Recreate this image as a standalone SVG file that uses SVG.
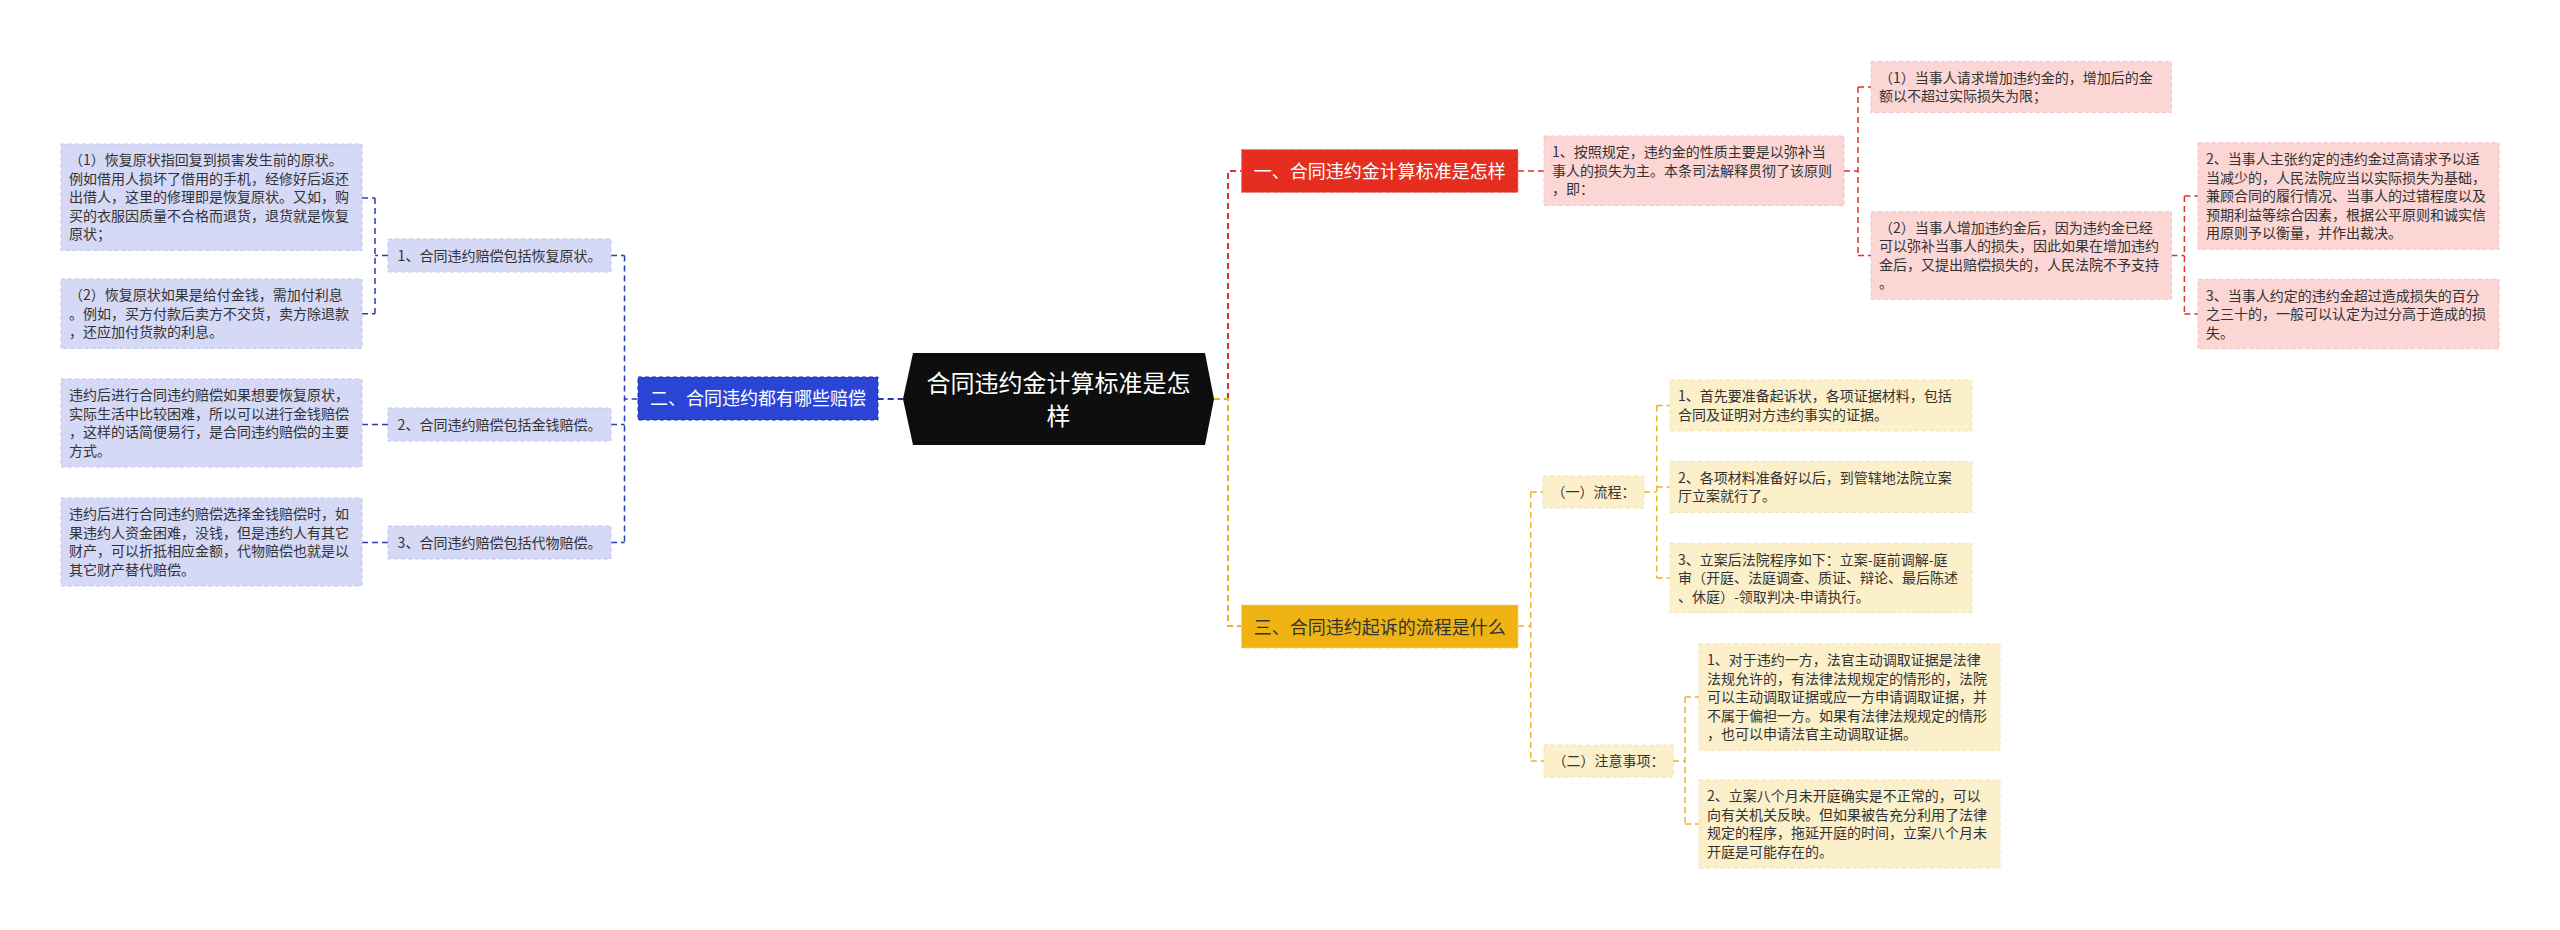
<svg xmlns="http://www.w3.org/2000/svg" width="2560" height="930" viewBox="0 0 2560 930">
<style>
text{font-family:"Noto Sans CJK SC","Noto Sans",sans-serif;}
.t{font-size:14px;fill:#333333;}
.tc{font-size:14px;fill:#333333;text-anchor:middle;}
.h{font-size:18px;text-anchor:middle;}
.root{font-size:24px;fill:#ffffff;text-anchor:middle;}
.lb{fill:#d5d9f6;stroke:#c2c8f0;stroke-width:1;stroke-dasharray:4 3;}
.lr{fill:#fcd6d4;stroke:#f6c2be;stroke-width:1;stroke-dasharray:4 3;}
.ly{fill:#fcf0cb;stroke:#f5e2aa;stroke-width:1;stroke-dasharray:4 3;}
.cb{fill:none;stroke:#2a3bb5;stroke-width:1.5;stroke-dasharray:6 4;}
.cr{fill:none;stroke:#d6362c;stroke-width:1.5;stroke-dasharray:6 4;}
.cy{fill:none;stroke:#e6b42a;stroke-width:1.5;stroke-dasharray:6 4;}
.m{stroke-width:2;}
</style>
<rect x="0" y="0" width="2560" height="930" fill="#ffffff"/>
<g id="connectors">
<path class="cb m" d="M877.7 399H903"/>
<path class="cb" d="M637.7 399H624.5M624.5 255.5V542.5M611 255.5H624.5M611 424.5H624.5M611 542.5H624.5M388 255.5H375M375 198V313.75M362 198H375M362 313.75H375M388 424.5H362M388 542.5H362"/>
<path class="cr m" d="M1228 399V171H1241.5"/>
<path class="cr" d="M1518 171H1544M1844 171H1858M1858 87V255.5M1858 87H1871M1858 255.5H1871M2171.5 255.5H2184.4M2184.4 196V314M2184.4 196H2198M2184.4 314H2198"/>
<path class="cy m" d="M1214 399H1228V626H1241.5"/>
<path class="cy" d="M1518 626H1530.7M1530.7 492V761M1530.7 492H1543M1530.7 761H1544M1644 492H1656.7M1656.7 405.5V578M1656.7 405.5H1670M1656.7 487H1670M1656.7 578H1670M1673 761H1685M1685 697V824M1685 697H1699M1685 824H1699"/>
</g>
<g id="root">
<polygon points="903,399 913,353 1205,353 1214,399 1205,445 913,445" fill="#0e0e0e"/>
<text class="root" x="1058.5" y="392">合同违约金计算标准是怎</text>
<text class="root" x="1058.5" y="425">样</text>
</g>
<g id="b0">
<rect x="638" y="377" width="240" height="43" fill="#2a45d6" stroke="#1b2fa6" stroke-width="1" stroke-dasharray="4 3"/>
<text class="h" x="758" y="405" fill="#ffffff">二、合同违约都有哪些赔偿</text>
</g>
<g id="b1">
<rect class="lb" x="388" y="239" width="223" height="33"/>
<text class="tc" x="499.5" y="260.5">1、合同违约赔偿包括恢复原状。</text>
</g>
<g id="b1a">
<rect class="lb" x="61" y="144" width="301" height="106.5"/>
<text class="t" x="69" y="165.25">（1）恢复原状指回复到损害发生前的原状。</text>
<text class="t" x="69" y="183.75">例如借用人损坏了借用的手机，经修好后返还</text>
<text class="t" x="69" y="202.25">出借人，这里的修理即是恢复原状。又如，购</text>
<text class="t" x="69" y="220.75">买的衣服因质量不合格而退货，退货就是恢复</text>
<text class="t" x="69" y="239.25">原状；</text>
</g>
<g id="b1b">
<rect class="lb" x="61" y="279" width="301" height="69.5"/>
<text class="t" x="69" y="300.25">（2）恢复原状如果是给付金钱，需加付利息</text>
<text class="t" x="69" y="318.75">。例如，买方付款后卖方不交货，卖方除退款</text>
<text class="t" x="69" y="337.25">，还应加付货款的利息。</text>
</g>
<g id="b2">
<rect class="lb" x="388" y="408" width="223" height="33"/>
<text class="tc" x="499.5" y="429.5">2、合同违约赔偿包括金钱赔偿。</text>
</g>
<g id="b2a">
<rect class="lb" x="61" y="379" width="301" height="88"/>
<text class="t" x="69" y="400.25">违约后进行合同违约赔偿如果想要恢复原状，</text>
<text class="t" x="69" y="418.75">实际生活中比较困难，所以可以进行金钱赔偿</text>
<text class="t" x="69" y="437.25">，这样的话简便易行，是合同违约赔偿的主要</text>
<text class="t" x="69" y="455.75">方式。</text>
</g>
<g id="b3">
<rect class="lb" x="388" y="526" width="223" height="33"/>
<text class="tc" x="499.5" y="547.5">3、合同违约赔偿包括代物赔偿。</text>
</g>
<g id="b3a">
<rect class="lb" x="61" y="498" width="301" height="88"/>
<text class="t" x="69" y="519.25">违约后进行合同违约赔偿选择金钱赔偿时，如</text>
<text class="t" x="69" y="537.75">果违约人资金困难，没钱，但是违约人有其它</text>
<text class="t" x="69" y="556.25">财产，可以折抵相应金额，代物赔偿也就是以</text>
<text class="t" x="69" y="574.75">其它财产替代赔偿。</text>
</g>
<g id="r0">
<rect x="1241.5" y="149.5" width="276.5" height="43" fill="#e52e1f" stroke="#f07a6c" stroke-width="1" stroke-dasharray="4 3"/>
<text class="h" x="1379.75" y="178" fill="#ffffff">一、合同违约金计算标准是怎样</text>
</g>
<g id="r1">
<rect class="lr" x="1544" y="136" width="300" height="69.5"/>
<text class="t" x="1552" y="157.25">1、按照规定，违约金的性质主要是以弥补当</text>
<text class="t" x="1552" y="175.75">事人的损失为主。本条司法解释贯彻了该原则</text>
<text class="t" x="1552" y="194.25">，即：</text>
</g>
<g id="r1a">
<rect class="lr" x="1871" y="61.5" width="300.5" height="51"/>
<text class="t" x="1879" y="82.75">（1）当事人请求增加违约金的，增加后的金</text>
<text class="t" x="1879" y="101.25">额以不超过实际损失为限；</text>
</g>
<g id="r1b">
<rect class="lr" x="1871" y="211.5" width="300.5" height="88"/>
<text class="t" x="1879" y="232.75">（2）当事人增加违约金后，因为违约金已经</text>
<text class="t" x="1879" y="251.25">可以弥补当事人的损失，因此如果在增加违约</text>
<text class="t" x="1879" y="269.75">金后，又提出赔偿损失的，人民法院不予支持</text>
<text class="t" x="1879" y="288.25">。</text>
</g>
<g id="r2">
<rect class="lr" x="2198" y="142.75" width="301" height="106.5"/>
<text class="t" x="2206" y="164">2、当事人主张约定的违约金过高请求予以适</text>
<text class="t" x="2206" y="182.5">当减少的，人民法院应当以实际损失为基础，</text>
<text class="t" x="2206" y="201">兼顾合同的履行情况、当事人的过错程度以及</text>
<text class="t" x="2206" y="219.5">预期利益等综合因素，根据公平原则和诚实信</text>
<text class="t" x="2206" y="238">用原则予以衡量，并作出裁决。</text>
</g>
<g id="r3">
<rect class="lr" x="2198" y="279.25" width="301" height="69.5"/>
<text class="t" x="2206" y="300.5">3、当事人约定的违约金超过造成损失的百分</text>
<text class="t" x="2206" y="319">之三十的，一般可以认定为过分高于造成的损</text>
<text class="t" x="2206" y="337.5">失。</text>
</g>
<g id="y0">
<rect x="1241.5" y="605" width="276.5" height="43" fill="#efb414" stroke="#f6d46a" stroke-width="1" stroke-dasharray="4 3"/>
<text class="h" x="1379.75" y="633.5" fill="#333333">三、合同违约起诉的流程是什么</text>
</g>
<g id="y1">
<rect class="ly" x="1543" y="476" width="101" height="32"/>
<text class="tc" x="1593.5" y="497">（一）流程：</text>
</g>
<g id="y1a">
<rect class="ly" x="1670" y="380" width="302" height="51"/>
<text class="t" x="1678" y="401.25">1、首先要准备起诉状，各项证据材料，包括</text>
<text class="t" x="1678" y="419.75">合同及证明对方违约事实的证据。</text>
</g>
<g id="y1b">
<rect class="ly" x="1670" y="461.5" width="302" height="51"/>
<text class="t" x="1678" y="482.75">2、各项材料准备好以后，到管辖地法院立案</text>
<text class="t" x="1678" y="501.25">厅立案就行了。</text>
</g>
<g id="y1c">
<rect class="ly" x="1670" y="543.25" width="302" height="69.5"/>
<text class="t" x="1678" y="564.5">3、立案后法院程序如下：立案-庭前调解-庭</text>
<text class="t" x="1678" y="583">审（开庭、法庭调查、质证、辩论、最后陈述</text>
<text class="t" x="1678" y="601.5">、休庭）-领取判决-申请执行。</text>
</g>
<g id="y2">
<rect class="ly" x="1544" y="745" width="129" height="32"/>
<text class="tc" x="1608.5" y="766">（二）注意事项：</text>
</g>
<g id="y2a">
<rect class="ly" x="1699" y="643.75" width="301" height="106.5"/>
<text class="t" x="1707" y="665">1、对于违约一方，法官主动调取证据是法律</text>
<text class="t" x="1707" y="683.5">法规允许的，有法律法规规定的情形的，法院</text>
<text class="t" x="1707" y="702">可以主动调取证据或应一方申请调取证据，并</text>
<text class="t" x="1707" y="720.5">不属于偏袒一方。如果有法律法规规定的情形</text>
<text class="t" x="1707" y="739">，也可以申请法官主动调取证据。</text>
</g>
<g id="y2b">
<rect class="ly" x="1699" y="780" width="301" height="88"/>
<text class="t" x="1707" y="801.25">2、立案八个月未开庭确实是不正常的，可以</text>
<text class="t" x="1707" y="819.75">向有关机关反映。但如果被告充分利用了法律</text>
<text class="t" x="1707" y="838.25">规定的程序，拖延开庭的时间，立案八个月未</text>
<text class="t" x="1707" y="856.75">开庭是可能存在的。</text>
</g>
</svg>
